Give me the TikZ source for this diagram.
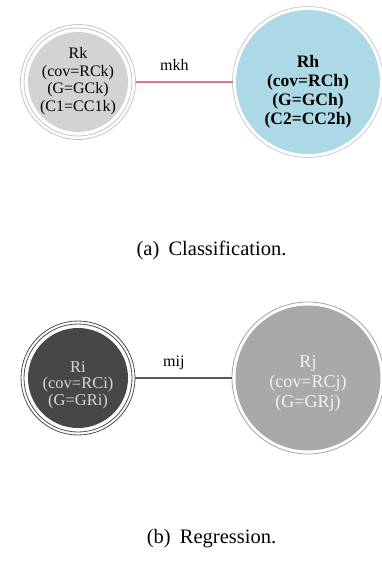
\documentclass[tikz,border=0pt]{standalone}
\usepackage{fontspec}
\setmainfont{Liberation Serif}
\usetikzlibrary{positioning}

\definecolor{rkfill}{HTML}{D3D3D3}
\definecolor{rkring}{HTML}{C4C4C4}
\definecolor{rhfill}{HTML}{ADD8E6}
\definecolor{rhring}{HTML}{CCCCCC}
\definecolor{rifill}{HTML}{474747}
\definecolor{riring}{HTML}{4C4C4C}
\definecolor{ritext}{HTML}{D6D6D6}
\definecolor{rjfill}{HTML}{A9A9A9}
\definecolor{rjring}{HTML}{A4A4A4}
\definecolor{rjtext}{HTML}{F2F2F2}
\definecolor{mkhline}{RGB}{232,112,134}
\definecolor{mijline}{HTML}{595959}

\begin{document}
\begin{tikzpicture}[x=1pt, y=-1pt,
  region/.style={circle, inner sep=0pt},
  ring/.style={draw=#1, line width=0.8pt},
  regiontext/.style={align=center, inner sep=0pt},
  weight/.style={inner sep=0pt, text=black, text depth=0pt, font=\fontsize{16}{18}\selectfont},
  subcaption/.style={anchor=base, inner sep=0pt, font=\fontsize{20.5}{22}\selectfont}]
  \useasboundingbox (0,0) rectangle (382,563);

  % (a) classification
  \node[region, fill=rkfill, minimum size=100pt, outer sep=7.5pt] (rk) at (78,82) {};
  \draw[ring=rkring] (rk.center) circle[radius=54pt] (rk.center) circle[radius=57.5pt];
  \node[regiontext, font=\fontsize{16}{17.5}\selectfont] (rk text) at ([yshift=1pt]rk.center)
    {Rk\\(cov=RCk)\\(G=GCk)\\(C1=CC1k)};

  \node[region, fill=rhfill, minimum size=144pt, outer sep=3.5pt] (rh) at (308,82) {};
  \draw[ring=rhring] (rh.center) circle[radius=75.5pt];
  \node[regiontext, font=\bfseries\fontsize{17.5}{19}\selectfont] (rh text) at ([yshift=-10pt]rh.center)
    {Rh\\(cov=RCh)\\(G=GCh)\\(C2=CC2h)};

  \draw[mkhline, line width=1.3pt] (rk) -- node[weight, pos=0.4, above=11pt] (mkh) {mkh} (rh);

  \node[subcaption] (cap a) at (211.5,255) {(a)\hspace{0.45em}Classification.};

  % (b) regression
  \node[region, fill=rifill, minimum size=100pt, outer sep=7pt] (ri) at (78,378) {};
  \draw[ring=riring] (ri.center) circle[radius=54pt] (ri.center) circle[radius=57pt];
  \node[regiontext, text=ritext, font=\fontsize{16.5}{16.5}\selectfont] (ri text) at ([yshift=-7pt]ri.center)
    {Ri\\(cov=RCi)\\(G=GRi)};

  \node[region, fill=rjfill, minimum size=145pt, outer sep=3.5pt] (rj) at (308,378) {};
  \draw[ring=rjring] (rj.center) circle[radius=76pt];
  \node[regiontext, text=rjtext, font=\fontsize{18}{20}\selectfont] (rj text) at ([yshift=-5pt]rj.center)
    {Rj\\(cov=RCj)\\(G=GRj)};

  \draw[mijline, line width=1.3pt] (ri) -- node[weight, pos=0.4, above=11pt] (mij) {mij} (rj);

  \node[subcaption] (cap b) at (211.5,543) {(b)\hspace{0.45em}Regression.};
\end{tikzpicture}
\end{document}
